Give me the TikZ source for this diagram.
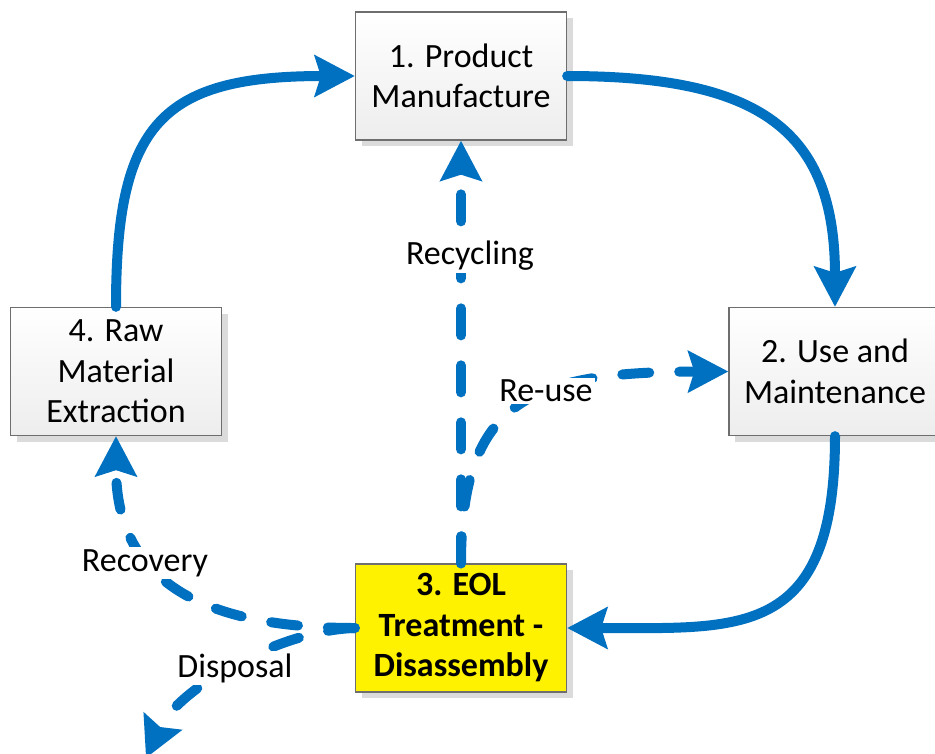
\documentclass[tikz,border=0pt]{standalone}
\usepackage{fontspec}
\setmainfont{Carlito}
\usetikzlibrary{arrows.meta,shadows}
\definecolor{flowblue}{HTML}{0070C0}
\definecolor{boxedge}{HTML}{6E6E6E}

\begin{document}
\begin{tikzpicture}[x=1pt,y=-1pt,
  basebox/.style={draw=boxedge, line width=1.3pt, minimum width=211pt,
    minimum height=128pt, align=center, inner sep=0pt,
    drop shadow={shadow xshift=6pt, shadow yshift=-6pt, fill=black!14, opacity=1}},
  stage/.style={basebox, top color=white, bottom color=black!7,
    font=\fontsize{34}{40.5}\selectfont},
  eolstage/.style={basebox, fill=yellow, font=\fontsize{34}{40.5}\selectfont\bfseries},
  flow/.style={draw=flowblue, line width=10pt, line cap=round,
    -{Stealth[length=40pt,width=41pt,inset=6pt]}},
  loop/.style={flow, dash pattern=on 27pt off 30pt},
  lbl/.style={fill=white, inner sep=2pt, font=\fontsize{34}{40}\selectfont}
]
\useasboundingbox (0,0) rectangle (935,753);

% life-cycle stages
\node[stage] (manuf) at (461,76) {1. Product\\Manufacture};
\node[stage, minimum width=212pt] (use) at (835,371.5) {2. Use and\\Maintenance};
\node[eolstage] (eol) at (461,628) {3. EOL\\Treatment -\\Disassembly};
\node[stage] (raw) at (116,371.5) {4. Raw\\Material\\Extraction};

% main cycle
\draw[flow] (raw.north) .. controls (116,125) and (160,76) .. (manuf.west);
\draw[flow] (manuf.east) .. controls (760,76) and (835,130) .. (use.north);
\draw[flow] (use.south) .. controls (835,640) and (740,628) .. (eol.east);

% end-of-life routes
\coordinate (dump) at (146,758);
\draw[loop] (eol.north) -- (manuf.south);
\draw[loop] (eol.north) .. controls (461,400) and (530,372) .. (use.west);
\draw[loop] (eol.west) .. controls (200,628) and (116,580) .. (raw.south);
\draw[loop] (eol.west) .. controls (280,630) and (178,688) .. (dump);

% route labels
\node[lbl] (recyc) at (470,256) {Recycling};
\node[lbl] (reuse) at (546,391) {Re-use};
\node[lbl] (recov) at (145,563) {Recovery};
\node[lbl] (disp) at (235,668) {Disposal};
\end{tikzpicture}
\end{document}
